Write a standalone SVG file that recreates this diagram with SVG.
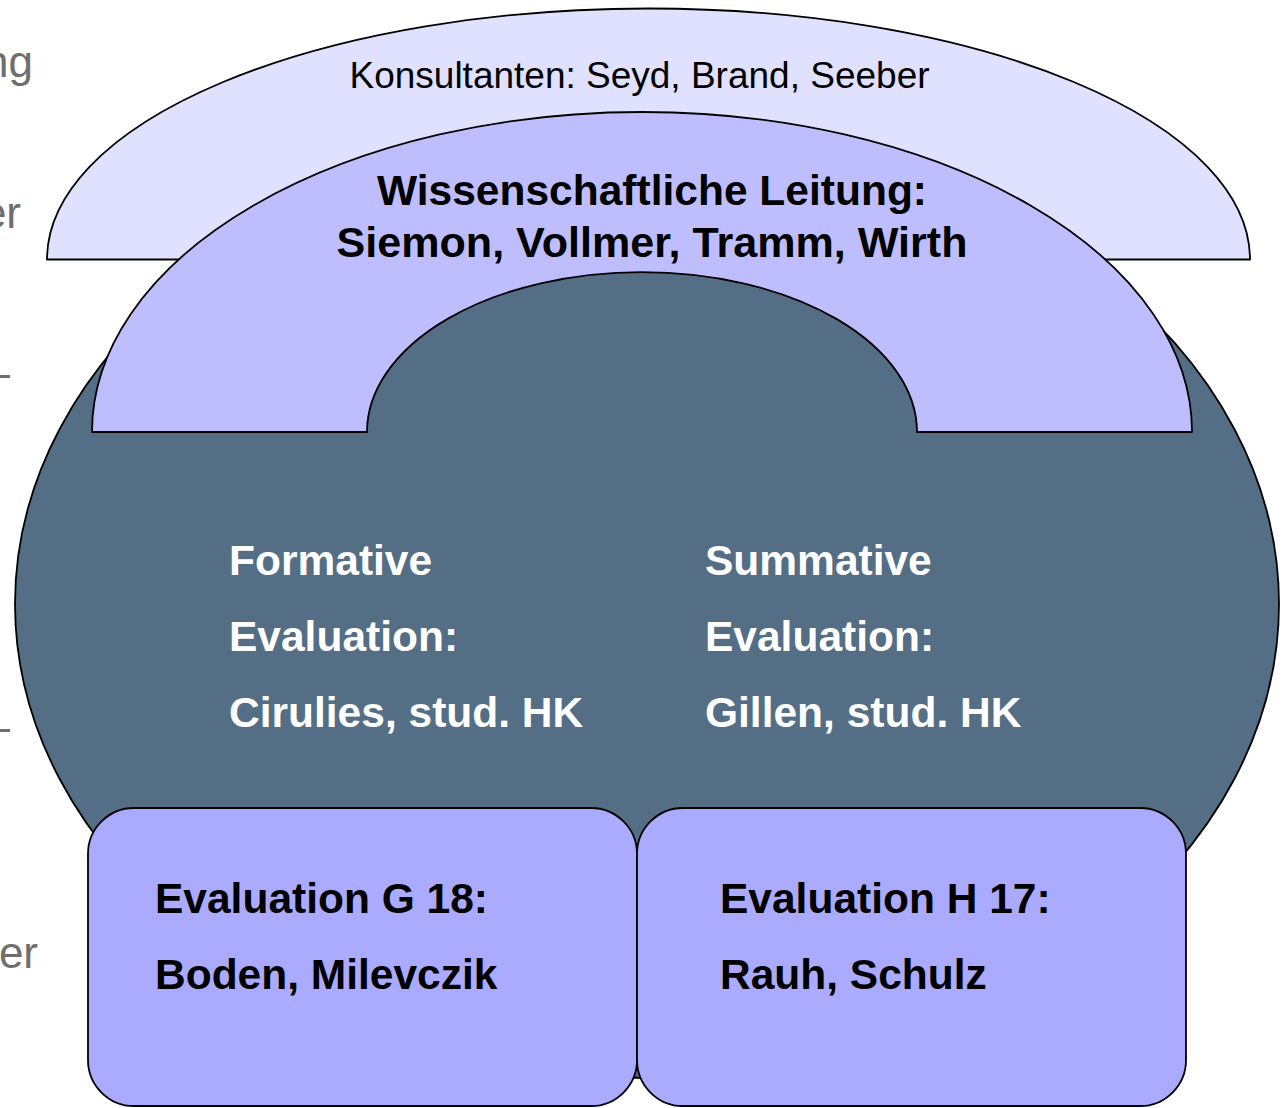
<svg xmlns="http://www.w3.org/2000/svg" width="1285" height="1108" viewBox="0 0 1285 1108">
<style>
.sh{stroke:#000;stroke-width:1.8;stroke-linejoin:round}
.t{font-family:"Liberation Sans",Arial,sans-serif}
.b{font-weight:bold;font-size:42.5px}
.h{font-size:43px}
.w{fill:#fff}
.k{fill:#000}
.g{fill:#6e6e6e;font-size:44px}
</style>
<rect width="1285" height="1108" fill="#fff"/>
<g id="side-text" class="t g" text-anchor="end">
<text x="33" y="77">ng</text>
<text x="21" y="228">er</text>
<text x="10" y="388">–</text>
<text x="10" y="742">–</text>
<text x="38" y="968">er</text>
</g>
<g id="evaluation-core">
<ellipse class="sh" cx="647" cy="604" rx="632" ry="474" fill="#536E85"/>
</g>
<g id="konsultanten">
<path class="sh" d="M47,259.5 A601.5,251 0 0 1 1250,259.5 Z" fill="#E0E0FF"/>
<text class="t" x="639.5" y="88" font-size="37" text-anchor="middle" fill="#000">Konsultanten: Seyd, Brand, Seeber</text>
</g>
<g id="leitung">
<path class="sh" d="M92,432 A550,320 0 0 1 1192,432 L917,432 A275,160 0 0 0 367,432 Z" fill="#BEBEFF"/>
<text class="t b h k" x="652" y="205" text-anchor="middle" textLength="550" lengthAdjust="spacingAndGlyphs">Wissenschaftliche Leitung:</text>
<text class="t b h k" x="652" y="257" text-anchor="middle" textLength="631" lengthAdjust="spacingAndGlyphs">Siemon, Vollmer, Tramm, Wirth</text>
</g>
<g id="formative">
<text class="t b w" x="229" y="575">Formative</text>
<text class="t b w" x="229" y="651">Evaluation:</text>
<text class="t b w" x="229" y="727">Cirulies, stud. HK</text>
</g>
<g id="summative">
<text class="t b w" x="705" y="575">Summative</text>
<text class="t b w" x="705" y="651">Evaluation:</text>
<text class="t b w" x="705" y="727">Gillen, stud. HK</text>
</g>
<g id="eval-g18">
<rect class="sh" x="88" y="808" width="549" height="298" rx="46" ry="46" fill="#AAAAFF"/>
<text class="t b k" x="155" y="913">Evaluation G 18:</text>
<text class="t b k" x="155" y="989">Boden, Milevczik</text>
</g>
<g id="eval-h17">
<rect class="sh" x="637" y="808" width="549" height="298" rx="46" ry="46" fill="#AAAAFF"/>
<text class="t b k" x="720" y="913">Evaluation H 17:</text>
<text class="t b k" x="720" y="989">Rauh, Schulz</text>
</g>
<g id="connectors"></g>
</svg>
